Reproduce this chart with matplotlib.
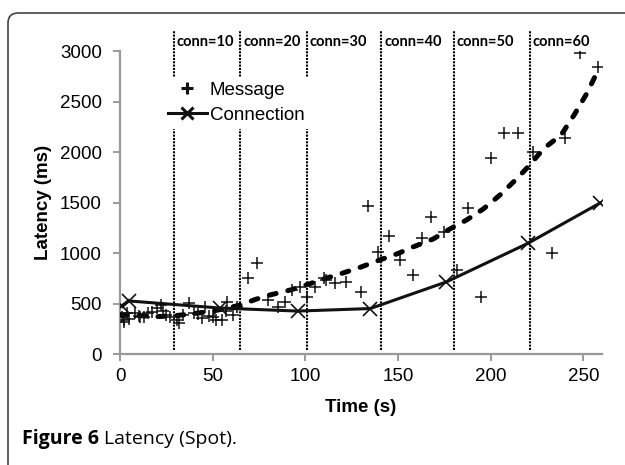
import matplotlib
matplotlib.use("Agg")
import matplotlib.pyplot as plt
from matplotlib.patches import FancyBboxPatch
from matplotlib.transforms import IdentityTransform
from matplotlib.lines import Line2D

plt.rcParams.update({
    "font.family": ["Liberation Sans", "DejaVu Sans"],
    "font.size": 13,
})

# Message latency samples (time s, latency ms)
msg_time = [1, 2, 2, 4, 5, 8, 10, 11, 13, 15, 17, 20, 22, 23, 25, 27, 31, 32,
            34, 37, 40, 42, 44, 46, 48, 50, 52, 55, 57, 58, 61, 63,
            69, 74, 80, 85, 89, 93, 97, 101, 105, 110, 111, 116, 122, 130,
            134, 139, 145, 151, 158, 163, 168, 175, 182, 188, 195, 200, 207,
            215, 223, 233, 240, 248, 258]
msg_latency = [366, 317, 337, 406, 350, 406, 380, 366, 366, 406, 416, 455, 485,
               430, 386, 370, 337, 310, 386, 505, 406, 400, 356, 466, 380, 366,
               337, 337, 430, 515, 386, 470,
               750, 900, 535, 466, 515, 634, 663, 564, 663, 752, 733, 703, 713,
               614, 1465, 1010, 1168, 931, 782, 1148, 1356, 1208, 832, 1445, 564,
               1940, 2193, 2188, 2000, 1000, 2139, 2980, 2842]

# Trend of message latency (thick dashed curve)
trend_time = [0, 10, 20, 30, 40, 50, 58, 65, 73, 81, 92, 102, 110, 120, 130,
              140, 150, 158, 169, 178, 187, 196, 205, 215, 220, 229, 238, 245,
              252, 258]
trend_latency = [390, 380, 370, 380, 400, 425, 455, 485, 540, 585, 634, 693,
                 743, 800, 861, 930, 995, 1059, 1139, 1238, 1327, 1436, 1574,
                 1752, 1851, 2040, 2168, 2366, 2584, 2812]

# Connection latency
conn_time = [1, 5, 54, 96, 135, 176, 220, 259]
conn_latency = [480, 525, 455, 425, 450, 713, 1095, 1495]

# Connection count change points
phase_time = [29, 65, 101, 141, 180, 221]
phase_labels = ["conn=10", "conn=20", "conn=30", "conn=40", "conn=50", "conn=60"]

fig = plt.figure(figsize=(6.25, 4.65), dpi=100)
ax = fig.add_axes([0.192, 0.2387, 0.771, 0.6516])

# Rounded frame around the figure (open to the right and bottom)
frame = FancyBboxPatch((8, -30), 700, 482, boxstyle="round,pad=0,rounding_size=10",
                       transform=IdentityTransform(), fill=False,
                       edgecolor="#444444", linewidth=1.2)
fig.patches.append(frame)

# Vertical dotted lines marking connection counts
for t, lab in zip(phase_time, phase_labels):
    ax.plot([t, t], [40, 3210], color="black", linestyle=(0, (1, 0.6)),
            linewidth=1.5, clip_on=False, zorder=1)
    ax.text(t + 1.5, 3090, lab, ha="left", va="center", fontsize=10.5,
            fontweight="bold", family=["Lato", "DejaVu Sans"])

ax.plot(trend_time, trend_latency, color="black", linewidth=3.6,
        linestyle=(0, (1.4, 2.4)), dash_capstyle="round", zorder=3)
ax.plot(msg_time, msg_latency, linestyle="none", marker="+", markersize=9,
        markeredgewidth=1.1, color="#111111", zorder=4)
ax.plot(conn_time, conn_latency, color="#111111", linewidth=2.2, marker="x",
        markersize=10, markeredgewidth=1.2, zorder=4)

ax.set_xlim(0, 260)
ax.set_ylim(0, 3000)
ax.set_xticks([0, 50, 100, 150, 200, 250])
ax.set_yticks([0, 500, 1000, 1500, 2000, 2500, 3000])

for side in ["top", "right"]:
    ax.spines[side].set_visible(False)
for side in ["left", "bottom"]:
    ax.spines[side].set_color("#999999")
    ax.spines[side].set_linewidth(1.6)
ax.tick_params(axis="both", direction="out", length=5, width=1.4,
               color="#999999", labelsize=13.5)
ax.tick_params(axis="x", pad=5)
ax.tick_params(axis="y", pad=8)

ax.set_xlabel("Time (s)", fontweight="bold", fontsize=13.5, labelpad=10)
ax.set_ylabel("Latency (ms)", fontweight="bold", fontsize=13.5, labelpad=6)

handles = [
    Line2D([], [], linestyle="none", marker="+", markersize=8,
           markeredgewidth=2.2, color="#111111"),
    Line2D([], [], color="#111111", linewidth=2.2, marker="x", markersize=8,
           markeredgewidth=2.2),
]
leg = ax.legend(handles, ["Message", "Connection"], loc="upper left",
                bbox_to_anchor=(0.089, 0.914), borderaxespad=0,
                frameon=True, fancybox=False, framealpha=1, edgecolor="white",
                fontsize=13.5, handlelength=2.1, handletextpad=0.15,
                labelspacing=0.4, borderpad=0.25)
leg.set_zorder(5)

# Caption: bold figure number followed by regular text
cap_y = 1 - 444 / 465
t1 = fig.text(22 / 625, cap_y, "Figure 6", fontweight="bold", fontsize=14,
              va="baseline", ha="left", family=["Open Sans", "DejaVu Sans"])
renderer = fig.canvas.get_renderer()
x_end = t1.get_window_extent(renderer).x1
fig.text((x_end + 5) / 625, cap_y, "Latency (Spot).", fontsize=14,
         va="baseline", ha="left", family=["Open Sans", "DejaVu Sans"])

fig.savefig("out.png", dpi=100)
plt.close(fig)
